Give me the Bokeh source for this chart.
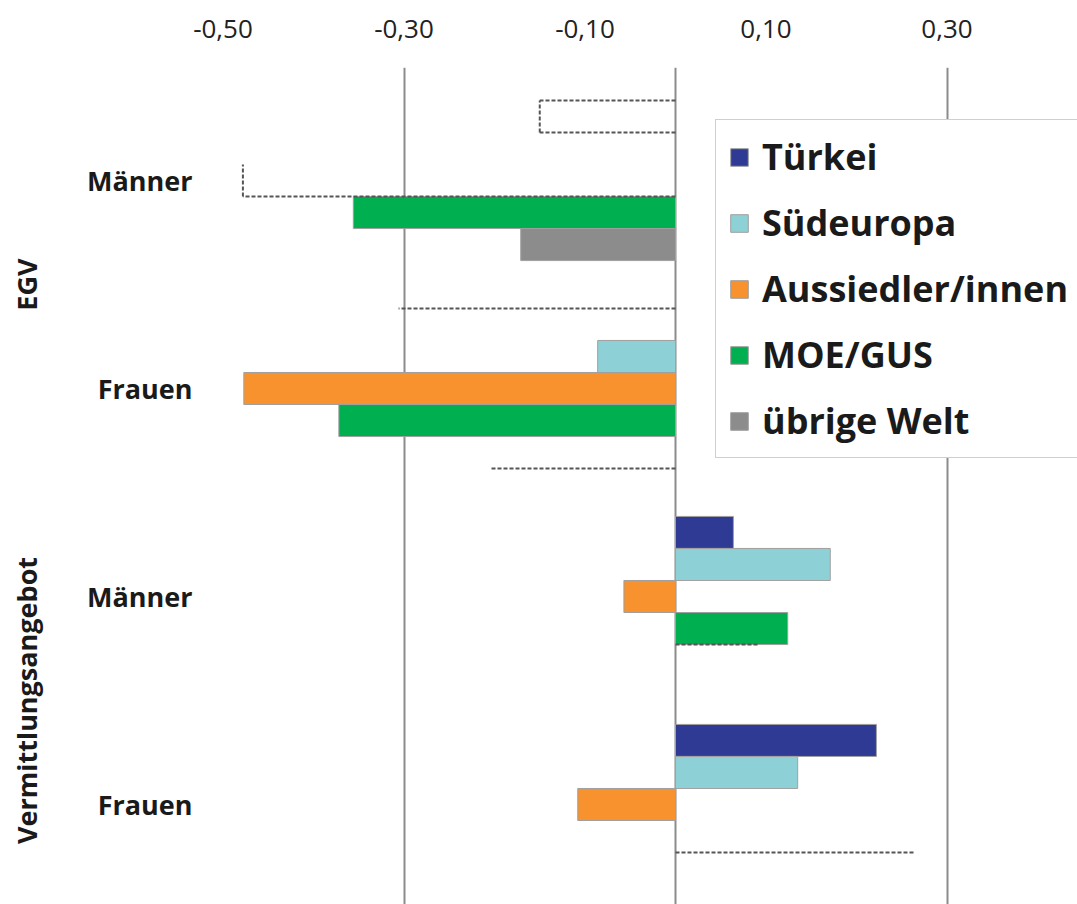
import math
from bokeh.plotting import figure
from bokeh.models import (Range1d, LinearAxis, FixedTicker, ColumnDataSource,
                          Legend, LegendItem)
from bokeh.embed import file_html
from bokeh.resources import INLINE

# ---------------- data ----------------
series = ["Türkei", "Südeuropa", "Aussiedler/innen", "MOE/GUS", "übrige Welt"]
groups = ["EGV", "EGV", "Vermittlungsangebot", "Vermittlungsangebot"]
subgroups = ["Männer", "Frauen", "Männer", "Frauen"]

# significant coefficients (None = no bar)
tuerkei = [None, None, 0.064, 0.222]
suedeuropa = [None, -0.086, 0.171, 0.135]
aussiedler = [None, -0.477, -0.057, -0.108]
moe_gus = [-0.356, -0.372, 0.124, None]
uebrige_welt = [-0.171, None, None, None]

# non-significant coefficients (dashed outlines)
ns_category = [0, 0, 1, 1, 2, 3]
ns_series = [0, 2, 0, 4, 4, 4]
ns_value = [-0.150, -0.478, -0.306, -0.204, 0.091, 0.265]

x_ticks = [-0.5, -0.3, -0.1, 0.1, 0.3]
grid_ticks = [-0.3, 0.0, 0.3]

# ---------------- styles ----------------
colors = ["#2E3A94", "#8DD1D6", "#F7922E", "#00AF50", "#8C8C8C"]
ns_edges = ["teb", "eb", "t", "b", "t", "t"]   # visible dashed edges
FONT = "Open Sans"

values = [tuerkei, suedeuropa, aussiedler, moe_gus, uebrige_welt]
n_cat = len(subgroups)
n_ser = len(series)
bar_h = 0.154

# layout (pixels)
W, H = 1077, 904
frame_left_px, frame_top_px = 200, 67
px_per_unit_x = 905.0
zero_px = 675 - frame_left_px
px_per_cat = 208.0
first_cat_px = 180 - frame_top_px

frame_w = W - frame_left_px
frame_h = H - frame_top_px
x0 = -zero_px / px_per_unit_x
x1 = x0 + frame_w / px_per_unit_x
cat_y = [n_cat - 1 - i for i in range(n_cat)]
y1 = cat_y[0] + first_cat_px / px_per_cat
y0 = y1 - frame_h / px_per_cat

p = figure(width=W, height=H, x_range=Range1d(x0, x1), y_range=Range1d(y0, y1),
           x_axis_location="above", output_backend="svg", toolbar_location=None,
           min_border_left=frame_left_px, min_border_top=frame_top_px,
           min_border_right=0, min_border_bottom=0)
p.outline_line_color = None
p.background_fill_color = "white"
p.border_fill_color = "white"

# grid
p.xgrid.ticker = FixedTicker(ticks=grid_ticks)
p.xgrid.grid_line_color = "#8C8C8C"
p.xgrid.grid_line_width = 2
p.ygrid.visible = False

# top axis
xa = p.xaxis[0]
xa.ticker = FixedTicker(ticks=x_ticks)
xa.major_label_overrides = {t: f"{t:.2f}".replace(".", ",") for t in x_ticks}
xa.axis_line_color = None
xa.major_tick_line_color = None
xa.major_tick_out = 0
xa.minor_tick_line_color = None
xa.major_label_text_font = FONT
xa.major_label_text_font_size = "26px"
xa.major_label_text_color = "#222222"
xa.major_label_standoff = 30

# left axis: subgroups
ya = p.yaxis[0]
ya.ticker = FixedTicker(ticks=cat_y)
ya.major_label_overrides = {y: s for y, s in zip(cat_y, subgroups)}
ya.axis_line_color = None
ya.major_tick_line_color = None
ya.major_tick_out = 0
ya.minor_tick_line_color = None
ya.major_label_text_font = FONT
ya.major_label_text_font_style = "bold"
ya.major_label_text_font_size = "27px"
ya.major_label_text_color = "#1a1a1a"
ya.major_label_standoff = 8

# outer left axis: groups
group_names = list(dict.fromkeys(groups))
group_centers = [sum(y for y, g in zip(cat_y, groups) if g == gn) /
                 sum(1 for g in groups if g == gn) for gn in group_names]
ga = LinearAxis(ticker=FixedTicker(ticks=group_centers),
                major_label_overrides={c: g for c, g in zip(group_centers, group_names)})
ga.axis_line_color = None
ga.major_tick_line_color = None
ga.major_tick_out = 0
ga.minor_tick_line_color = None
ga.major_label_orientation = "parallel"
ga.major_label_text_font = FONT
ga.major_label_text_font_style = "bold"
ga.major_label_text_font_size = "27px"
ga.major_label_text_color = "#1a1a1a"
ga.major_label_standoff = 40
p.add_layout(ga, "left")

# bars
def slot_y(ci, si):
    return cat_y[ci] + ((n_ser - 1) / 2 - si) * bar_h

renderers = []
for si, (name, vals) in enumerate(zip(series, values)):
    ys, ls, rs = [], [], []
    for ci, v in enumerate(vals):
        if v is None:
            continue
        ys.append(slot_y(ci, si))
        ls.append(min(v, 0))
        rs.append(max(v, 0))
    src = ColumnDataSource(dict(y=ys, left=ls, right=rs))
    r = p.hbar(y="y", left="left", right="right", height=bar_h, source=src,
               fill_color=colors[si], line_color="#A0A0A0", line_width=1)
    renderers.append(r)

# non-significant dashed outlines
sx0, sy0, sx1, sy1 = [], [], [], []
for ci, si, v, edges in zip(ns_category, ns_series, ns_value, ns_edges):
    yc = slot_y(ci, si)
    top, bot = yc + bar_h / 2, yc - bar_h / 2
    if "t" in edges:
        sx0.append(0); sy0.append(top); sx1.append(v); sy1.append(top)
    if "b" in edges:
        sx0.append(0); sy0.append(bot); sx1.append(v); sy1.append(bot)
    if "e" in edges:
        sx0.append(v); sy0.append(bot); sx1.append(v); sy1.append(top)
p.segment(x0=sx0, y0=sy0, x1=sx1, y1=sy1, line_color="#555555",
          line_width=2, line_dash="4 2")

legend = Legend(items=[LegendItem(label=s, renderers=[r]) for s, r in zip(series, renderers)],
                location=(515, 446))
legend.label_text_font = FONT
legend.label_text_font_style = "bold"
legend.label_text_font_size = "36px"
legend.label_text_color = "#1a1a1a"
legend.glyph_width = 22
legend.glyph_height = 22
legend.label_standoff = 12
legend.label_width = 330
legend.spacing = 17
legend.padding = 12
legend.margin = 0
legend.border_line_color = "#A0A0A0"
legend.border_line_width = 1
legend.background_fill_alpha = 1.0
p.add_layout(legend)

open("out.html", "w").write(file_html(p, INLINE))
